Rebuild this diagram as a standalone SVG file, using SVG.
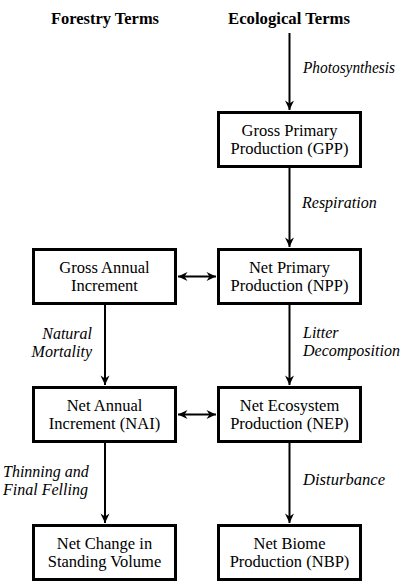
<svg xmlns="http://www.w3.org/2000/svg" width="405" height="584" viewBox="0 0 405 584">
<style>
.box{fill:#fff;stroke:#000;stroke-width:3}
.bt{font-family:'Liberation Serif','Times New Roman',Times,'DejaVu Serif',serif;font-size:16.5px;text-anchor:middle;fill:#000}
.hd{font-family:'Liberation Serif','Times New Roman',Times,'DejaVu Serif',serif;font-size:16px;font-weight:bold;text-anchor:middle;fill:#000}
.lb{font-family:'Liberation Serif','Times New Roman',Times,'DejaVu Serif',serif;font-size:16px;font-style:italic;fill:#000}
.ln{stroke:#000;stroke-width:2;fill:none}
</style>
<defs>
<marker id="ah" markerUnits="userSpaceOnUse" markerWidth="12" markerHeight="10" viewBox="-10 -5 12 10" refX="0" refY="0" orient="auto-start-reverse">
<path d="M0,0 L-9.5,-4.5 L-6.5,0 L-9.5,4.5 Z" fill="#000"/>
</marker>
</defs>
<rect width="405" height="584" fill="#fff"/>
<g id="headers">
<text class="hd" x="105" y="24" textLength="108" lengthAdjust="spacingAndGlyphs">Forestry Terms</text>
<text class="hd" x="289" y="24" textLength="122" lengthAdjust="spacingAndGlyphs">Ecological Terms</text>
</g>
<g id="connectors">
<line class="ln" x1="289.5" y1="33" x2="289.5" y2="110" marker-end="url(#ah)"/>
<line class="ln" x1="289.5" y1="168" x2="289.5" y2="247" marker-end="url(#ah)"/>
<line class="ln" x1="289.5" y1="305" x2="289.5" y2="385" marker-end="url(#ah)"/>
<line class="ln" x1="289.5" y1="443" x2="289.5" y2="523" marker-end="url(#ah)"/>
<line class="ln" x1="105" y1="305" x2="105" y2="385" marker-end="url(#ah)"/>
<line class="ln" x1="105" y1="443" x2="105" y2="523" marker-end="url(#ah)"/>
<line class="ln" x1="178" y1="276.5" x2="216" y2="276.5" marker-start="url(#ah)" marker-end="url(#ah)"/>
<line class="ln" x1="178" y1="414.5" x2="216" y2="414.5" marker-start="url(#ah)" marker-end="url(#ah)"/>
<text class="lb" x="303" y="73" textLength="92" lengthAdjust="spacingAndGlyphs">Photosynthesis</text>
<text class="lb" x="302" y="208">Respiration</text>
<text class="lb" x="92" y="339" text-anchor="end">Natural</text>
<text class="lb" x="92" y="357" text-anchor="end">Mortality</text>
<text class="lb" x="303" y="338">Litter</text>
<text class="lb" x="303" y="356">Decomposition</text>
<text class="lb" x="3" y="477">Thinning and</text>
<text class="lb" x="3" y="495">Final Felling</text>
<text class="lb" x="303" y="485" textLength="82" lengthAdjust="spacingAndGlyphs">Disturbance</text>
</g>
<g id="gpp">
<rect class="box" x="218.5" y="112.5" width="142" height="54"/>
<text class="bt" x="289.5" y="136">Gross Primary</text>
<text class="bt" x="289.5" y="154">Production (GPP)</text>
</g>
<g id="gai">
<rect class="box" x="33.5" y="249.5" width="142" height="54"/>
<text class="bt" x="104.5" y="273">Gross Annual</text>
<text class="bt" x="104.5" y="291">Increment</text>
</g>
<g id="npp">
<rect class="box" x="218.5" y="249.5" width="142" height="54"/>
<text class="bt" x="289.5" y="273">Net Primary</text>
<text class="bt" x="289.5" y="291">Production (NPP)</text>
</g>
<g id="nai">
<rect class="box" x="33.5" y="387.5" width="142" height="54"/>
<text class="bt" x="104.5" y="411">Net Annual</text>
<text class="bt" x="104.5" y="429">Increment (NAI)</text>
</g>
<g id="nep">
<rect class="box" x="218.5" y="387.5" width="142" height="54"/>
<text class="bt" x="289.5" y="411">Net Ecosystem</text>
<text class="bt" x="289.5" y="429">Production (NEP)</text>
</g>
<g id="ncsv">
<rect class="box" x="33.5" y="525.5" width="142" height="54"/>
<text class="bt" x="104.5" y="549">Net Change in</text>
<text class="bt" x="104.5" y="567">Standing Volume</text>
</g>
<g id="nbp">
<rect class="box" x="218.5" y="525.5" width="142" height="54"/>
<text class="bt" x="289.5" y="549">Net Biome</text>
<text class="bt" x="289.5" y="567">Production (NBP)</text>
</g>
</svg>
